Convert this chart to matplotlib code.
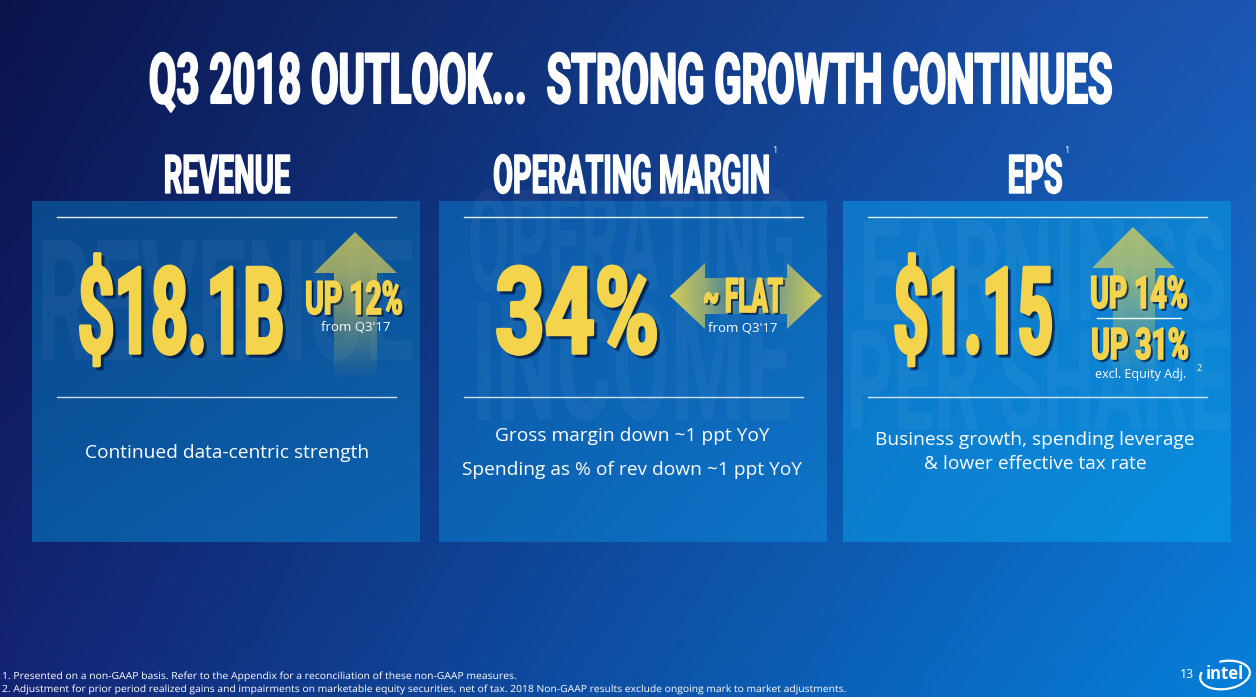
import numpy as np
import matplotlib
matplotlib.use("Agg")
import matplotlib.pyplot as plt
from matplotlib.patches import Rectangle, Polygon, Arc
from matplotlib.patheffects import AbstractPathEffect
from matplotlib.transforms import Affine2D
from matplotlib.textpath import TextPath
from matplotlib.font_manager import FontProperties

# ---------------- data ----------------
title = "Q3 2018 OUTLOOK...  STRONG GROWTH CONTINUES"
metrics = ["REVENUE", "OPERATING MARGIN", "EPS"]
metric_notes = ["", "1", "1"]
values = ["$18.1B", "34%", "$1.15"]
changes = ["UP 12%", "~ FLAT", "UP 14%"]
change_subs = ["from Q3'17", "from Q3'17", ""]
arrow_kinds = ["up", "both", "up"]
eps_alt_change = "UP 31%"
eps_alt_note = "excl. Equity Adj."
eps_alt_note_ref = "2"
descriptions = [
    ["Continued data-centric strength"],
    ["Gross margin down ~1 ppt YoY", "Spending as % of rev down ~1 ppt YoY"],
    ["Business growth, spending leverage", "& lower effective tax rate"],
]
watermarks = [["REVENUE"], ["OPERATING", "INCOME"], ["EARNINGS", "PER SHARE"]]
footnotes = [
    "1. Presented on a non-GAAP basis. Refer to the Appendix for a reconciliation of these non-GAAP measures.",
    "2. Adjustment for prior period realized gains and impairments on marketable equity securities, net of tax. 2018 Non-GAAP results exclude ongoing mark to market adjustments.",
]
page_number = "13"
logo_text = "intel"

# ---------------- styling ----------------
W, H = 1256, 697
DPI = 100
YELLOW = "#F3D44C"
WHITE = "#FFFFFF"
COND = "Roboto"
BODY = "Open Sans"


class Tall(AbstractPathEffect):
    """Stretch a text path vertically about its baseline (condensed look), with stroke/shadow."""

    def __init__(self, sy=1.0, stroke=0.0, shadow=None):
        super().__init__()
        self.sy = sy
        self.stroke = stroke
        self.shadow = shadow

    def draw_path(self, renderer, gc, tpath, affine, rgbFace=None):
        m = affine.get_matrix()
        bx, by = m[0, 2], m[1, 2]
        t = affine + Affine2D().translate(-bx, -by).scale(1.0, self.sy).translate(bx, by)
        if self.shadow is not None:
            dx, dy, col, alpha = self.shadow
            g = renderer.new_gc()
            g.copy_properties(gc)
            g.set_foreground(col)
            g.set_alpha(alpha)
            g.set_linewidth(self.stroke)
            renderer.draw_path(g, tpath, t + Affine2D().translate(dx, -dy), col)
            g.restore()
        g = renderer.new_gc()
        g.copy_properties(gc)
        g.set_linewidth(self.stroke)
        if rgbFace is not None:
            g.set_foreground(rgbFace)
        renderer.draw_path(g, tpath, t, rgbFace)
        g.restore()


def esc(s):
    return s.replace("$", r"\$")


def fit_text(ax, x, y, s, width_px, cap_px, color=WHITE, anchor="center", stroke=0.0,
             shadow=None, alpha=None, clip=None, z=5, family=COND, weight="bold"):
    """Font size chosen from the wanted ink width; glyphs then stretched to the wanted cap height."""
    fp = FontProperties(family=family, weight=weight)
    w0 = TextPath((0, 0), s, size=10, prop=fp).get_extents().width
    size = 10 * (width_px - stroke) * 72.0 / DPI / w0
    cap = TextPath((0, 0), "H", size=size, prop=fp).get_extents().height * DPI / 72.0
    sy = (cap_px - stroke) / cap
    t = ax.text(x, y, esc(s), fontsize=size, fontfamily=family, fontweight=weight,
                color=color, ha=anchor, va="baseline", alpha=alpha, zorder=z,
                path_effects=[Tall(sy=sy, stroke=stroke, shadow=shadow)])
    if clip is not None:
        t.set_clip_path(clip)
    return t


def lerp_img(c_tl, c_tr, c_bl, c_br, nx, ny):
    u = np.linspace(0, 1, nx)[None, :, None]
    v = np.linspace(0, 1, ny)[:, None, None]
    tl, tr, bl, br = [np.array(c, float)[None, None, :] / 255 for c in (c_tl, c_tr, c_bl, c_br)]
    top = tl * (1 - u) + tr * u
    bot = bl * (1 - u) + br * u
    return top * (1 - v) + bot * v


fig = plt.figure(figsize=(W / DPI, H / DPI), dpi=DPI)
ax = fig.add_axes([0, 0, 1, 1])
ax.set_xlim(0, W)
ax.set_ylim(H, 0)
ax.axis("off")

# background gradient
bg = lerp_img((10, 20, 76), (28, 86, 180), (20, 36, 116), (6, 128, 218), 300, 170)
ax.imshow(bg, extent=(0, W, H, 0), aspect="auto", zorder=0, interpolation="bilinear")

# title
fit_text(ax, 631, 103, title, 962, 51, stroke=1.5)

# panels
panel_x = [32, 439, 843]
panel_w = 388
panel_top, panel_bot = 201, 542
panel_cols = [
    ((10, 72, 140), (12, 82, 152), (11, 86, 160), (12, 98, 175)),
    ((13, 88, 166), (14, 100, 180), (12, 98, 178), (13, 116, 200)),
    ((15, 118, 200), (14, 128, 208), (12, 126, 206), (8, 142, 222)),
]
header_centers = [227, 632, 1035]
header_widths = [125, 275, 53]
panel_rects = []

for i in range(3):
    x0 = panel_x[i]
    img = lerp_img(*panel_cols[i], 60, 60)
    ax.imshow(img, extent=(x0, x0 + panel_w, panel_bot, panel_top), aspect="auto",
              zorder=1, interpolation="bilinear")
    rect = Rectangle((x0, panel_top), panel_w, panel_bot - panel_top, fc="none", ec="none",
                     zorder=1)
    ax.add_patch(rect)
    panel_rects.append(rect)

    # header
    fit_text(ax, header_centers[i], 193, metrics[i], header_widths[i], 39, stroke=1.0)
    if metric_notes[i]:
        ax.text(header_centers[i] + header_widths[i] / 2 + 3, 153, metric_notes[i],
                fontsize=6.5, color=WHITE, fontfamily=BODY, ha="left", va="baseline", zorder=6)

    # rules
    ax.plot([x0 + 25, x0 + 364], [217, 217], color=WHITE, lw=1.0, alpha=0.9, zorder=3)
    ax.plot([x0 + 25, x0 + 364], [397, 397], color=WHITE, lw=1.0, alpha=0.8, zorder=3)

# watermarks (faint, clipped to panels): centre x, baseline, width, cap height
wm_specs = [
    [(225, 360, 370, 120)],
    [(632, 290, 322, 100), (632, 420, 313, 118)],
    [(1043, 320, 360, 100), (1038, 430, 377, 100)],
]
for i in range(3):
    for line, (cx, base, wd, cap) in zip(watermarks[i], wm_specs[i]):
        fit_text(ax, cx, base, line, wd, cap, color=WHITE, alpha=0.04, clip=panel_rects[i], z=2)

# arrows ------------------------------------------------------------
ycol = np.array([232, 214, 80]) / 255.0


def up_arrow(apex_x, apex_y, base_y, hx0, hx1, sx0, sx1, bottom):
    pts = [(apex_x, apex_y), (hx1, base_y), (sx1, base_y), (sx1, bottom),
           (sx0, bottom), (sx0, base_y), (hx0, base_y)]
    poly = Polygon(pts, closed=True, fc="none", ec="none", zorder=3)
    ax.add_patch(poly)
    n = 200
    yy = np.linspace(apex_y, bottom, n)
    a = np.interp(yy, [apex_y, base_y, bottom], [0.72, 0.62, 0.0])
    img = np.zeros((n, 2, 4))
    img[:, :, :3] = ycol
    img[:, :, 3] = a[:, None]
    im = ax.imshow(img, extent=(hx0, hx1, bottom, apex_y), aspect="auto", zorder=3,
                   interpolation="bilinear")
    im.set_clip_path(poly)


def double_arrow(lx, rx, cy, lb, rb, head_half, shaft_half):
    pts = [(lx, cy), (lb, cy - head_half), (lb, cy - shaft_half), (rb, cy - shaft_half),
           (rb, cy - head_half), (rx, cy), (rb, cy + head_half), (rb, cy + shaft_half),
           (lb, cy + shaft_half), (lb, cy + head_half)]
    poly = Polygon(pts, closed=True, fc="none", ec="none", zorder=3)
    ax.add_patch(poly)
    n = 200
    xx = np.linspace(lx, rx, n)
    mid = 0.5 * (lx + rx)
    a = np.interp(xx, [lx, lb, mid, rb, rx], [0.92, 0.6, 0.08, 0.6, 0.92])
    img = np.zeros((2, n, 4))
    img[:, :, :3] = ycol
    img[:, :, 3] = a[None, :]
    im = ax.imshow(img, extent=(lx, rx, cy + head_half, cy - head_half), aspect="auto",
                   zorder=3, interpolation="bilinear")
    im.set_clip_path(poly)


for kind, spec in zip(arrow_kinds, [(355, 232, 273, 314, 397, 334, 377, 380),
                                     (670, 822, 296, 705, 787, 33, 18),
                                     (1133, 227, 268, 1092, 1175, 1113, 1155, 380)]):
    if kind == "up":
        up_arrow(*spec)
    else:
        double_arrow(*spec)

# values & changes ----------------------------------------------------
SH_BIG = (3, 3, (0.0, 0.06, 0.2), 0.55)
SH_SM = (2, 2, (0.0, 0.06, 0.2), 0.55)
value_pos = [(181, 353, 203), (577, 353, 160), (973, 353, 157)]
for v, (cx, base, wd) in zip(values, value_pos):
    fit_text(ax, cx, base, v, wd, 88, color=YELLOW, stroke=2.5, shadow=SH_BIG, z=6)

change_pos = [(354, 314, 96, 34), (743, 312, 79, 35), (1139, 308, 96, 33)]
for c, (cx, base, wd, cap) in zip(changes, change_pos):
    fit_text(ax, cx, base, c, wd, cap, color=YELLOW, stroke=1.2, shadow=SH_SM, z=6)

sub_pos = [(356, 331), (743, 332), None]
for s, p in zip(change_subs, sub_pos):
    if s and p:
        ax.text(p[0], p[1], s, fontsize=9.5, fontfamily=BODY, color=WHITE, ha="center",
                va="baseline", zorder=6)

# EPS second line
ax.plot([1097, 1181], [318, 318], color=WHITE, lw=1.0, zorder=5)
fit_text(ax, 1140, 359, eps_alt_change, 96, 32, color=YELLOW, stroke=1.2, shadow=SH_SM, z=6)
ax.text(1141, 378, eps_alt_note, fontsize=9, fontfamily=BODY, color=WHITE, ha="center",
        va="baseline", zorder=6)
ax.text(1197, 371, eps_alt_note_ref, fontsize=6.5, fontfamily=BODY, color=WHITE, ha="left",
        va="baseline", zorder=6)

# descriptions
desc_pos = [[(227, 458)], [(632, 441), (632, 475)], [(1035, 445), (1035, 469)]]
for lines, poss in zip(descriptions, desc_pos):
    for line, (cx, base) in zip(lines, poss):
        ax.text(cx, base, line, fontsize=13.8, fontfamily=BODY, color=WHITE, ha="center",
                va="baseline", zorder=6)

# footnotes
fit_text(ax, 2, 679, footnotes[0], 513, 7, anchor="left", family=BODY, weight="normal", z=6)
fit_text(ax, 2, 692, footnotes[1], 843, 7, anchor="left", family=BODY, weight="normal", z=6)

# page number & logo
ax.text(1180, 678, page_number, fontsize=9, fontfamily=BODY, color=WHITE, ha="left",
        va="baseline", zorder=6)
ax.text(1225, 679, logo_text, fontsize=12, fontfamily=BODY, fontweight="bold", color=WHITE,
        ha="center", va="baseline", zorder=6)
ax.add_patch(Arc((1225, 675), 50, 28, angle=-8, theta1=-105, theta2=195, color=WHITE,
                 lw=1.6, zorder=6))

fig.savefig("out.png", dpi=DPI)
